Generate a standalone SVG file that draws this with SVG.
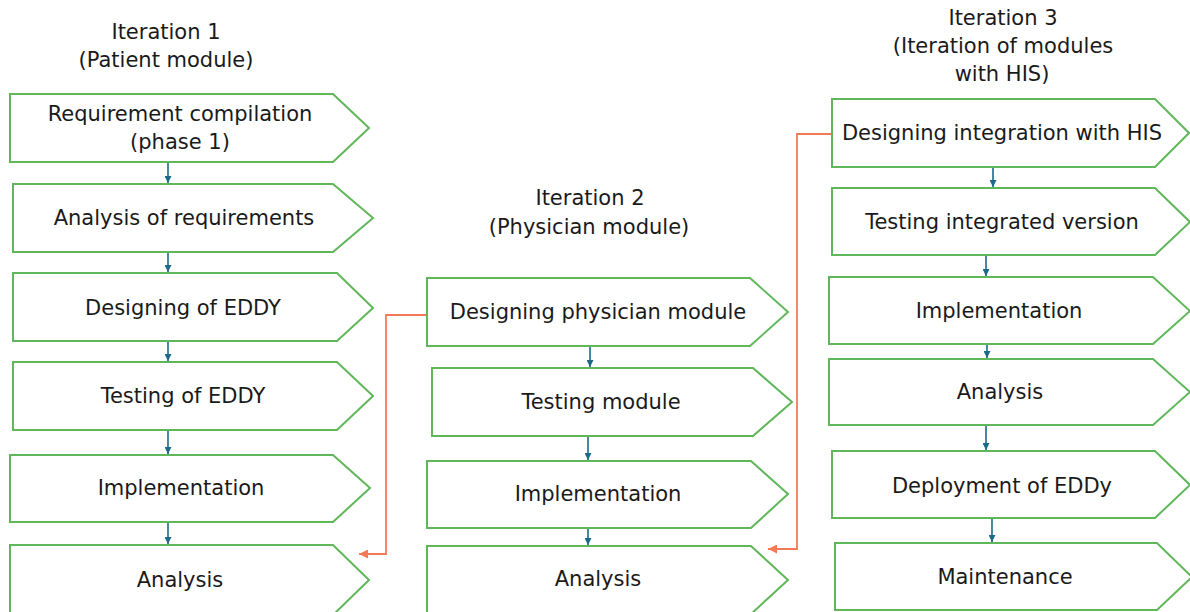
<svg xmlns="http://www.w3.org/2000/svg" width="1190" height="612" viewBox="0 0 1190 612">
  <defs>
    <style>
      .step { fill: #ffffff; stroke: #5fb75a; stroke-width: 2; stroke-linejoin: miter; }
      .lbl { font-family: "DejaVu Sans", "Open Sans", sans-serif; font-size: 21px; fill: #1a1a1a; text-anchor: middle; }
      .flow { stroke: #1b6a8a; stroke-width: 1.6; fill: none; }
      .jump { stroke: #f47a55; stroke-width: 1.8; fill: none; }
    </style>
    <marker id="head-flow" viewBox="0 0 10 10" refX="10" refY="5" markerWidth="7" markerHeight="7" markerUnits="userSpaceOnUse" orient="auto">
      <path d="M0,0 L10,5 L0,10 Z" fill="#1b6a8a"/>
    </marker>
    <marker id="head-jump" viewBox="0 0 10 10" refX="10" refY="5" markerWidth="9" markerHeight="9" markerUnits="userSpaceOnUse" orient="auto">
      <path d="M0,0 L10,5 L0,10 Z" fill="#f47a55"/>
    </marker>
  </defs>

  <rect width="1190" height="612" fill="#ffffff"/>

  <!-- column headings -->
  <g id="heading-1">
    <text class="lbl" x="166" y="39">Iteration 1</text>
    <text class="lbl" x="166" y="67">(Patient module)</text>
  </g>
  <g id="heading-2">
    <text class="lbl" x="590" y="205">Iteration 2</text>
    <text class="lbl" x="589" y="234">(Physician module)</text>
  </g>
  <g id="heading-3">
    <text class="lbl" x="1003" y="25">Iteration 3</text>
    <text class="lbl" x="1003" y="53">(Iteration of modules</text>
    <text class="lbl" x="1002" y="81">with HIS)</text>
  </g>

  <!-- connectors -->
  <g id="connectors">
    <!-- iteration 1 -->
    <line class="flow" x1="168" y1="163" x2="168" y2="183" marker-end="url(#head-flow)"/>
    <line class="flow" x1="168" y1="253" x2="168" y2="272" marker-end="url(#head-flow)"/>
    <line class="flow" x1="168" y1="342" x2="168" y2="361" marker-end="url(#head-flow)"/>
    <line class="flow" x1="168" y1="431" x2="168" y2="454" marker-end="url(#head-flow)"/>
    <line class="flow" x1="168" y1="523" x2="168" y2="544" marker-end="url(#head-flow)"/>
    <!-- iteration 2 -->
    <line class="flow" x1="590" y1="347" x2="590" y2="367" marker-end="url(#head-flow)"/>
    <line class="flow" x1="588" y1="437" x2="588" y2="460" marker-end="url(#head-flow)"/>
    <line class="flow" x1="588" y1="529" x2="588" y2="545" marker-end="url(#head-flow)"/>
    <!-- iteration 3 -->
    <line class="flow" x1="993" y1="168" x2="993" y2="187" marker-end="url(#head-flow)"/>
    <line class="flow" x1="986" y1="256" x2="986" y2="276" marker-end="url(#head-flow)"/>
    <line class="flow" x1="987" y1="345" x2="987" y2="358" marker-end="url(#head-flow)"/>
    <line class="flow" x1="986" y1="426" x2="986" y2="450" marker-end="url(#head-flow)"/>
    <line class="flow" x1="992" y1="519" x2="992" y2="542" marker-end="url(#head-flow)"/>
    <!-- links between iterations -->
    <path class="jump" d="M427,315 H386 V554 H359" marker-end="url(#head-jump)"/>
    <path class="jump" d="M831,134 H797 V549 H768" marker-end="url(#head-jump)"/>
  </g>

  <!-- iteration 1 steps -->
  <g id="req-compilation">
    <polygon class="step" points="10,94 333,94 369,128 333,162 10,162"/>
    <text class="lbl" x="180" y="121">Requirement compilation</text>
    <text class="lbl" x="180" y="149">(phase 1)</text>
  </g>
  <g id="req-analysis">
    <polygon class="step" points="13,184 333,184 373,218 333,252 13,252"/>
    <text class="lbl" x="184" y="225">Analysis of requirements</text>
  </g>
  <g id="design-eddy">
    <polygon class="step" points="13,273 337,273 373,308 337,341 13,341"/>
    <text class="lbl" x="183" y="315">Designing of EDDY</text>
  </g>
  <g id="test-eddy">
    <polygon class="step" points="13,362 337,362 373,396 337,430 13,430"/>
    <text class="lbl" x="183" y="403">Testing of EDDY</text>
  </g>
  <g id="impl-1">
    <polygon class="step" points="10,455 333,455 370,488 333,522 10,522"/>
    <text class="lbl" x="181" y="495">Implementation</text>
  </g>
  <g id="analysis-1">
    <polygon class="step" points="10,545 333,545 369,580 333,615 10,615"/>
    <text class="lbl" x="180" y="587">Analysis</text>
  </g>

  <!-- iteration 2 steps -->
  <g id="design-physician">
    <polygon class="step" points="427,278 750,278 788,312 750,346 427,346"/>
    <text class="lbl" x="598" y="319">Designing physician module</text>
  </g>
  <g id="test-module">
    <polygon class="step" points="432,368 753,368 792,402 753,436 432,436"/>
    <text class="lbl" x="601" y="409">Testing module</text>
  </g>
  <g id="impl-2">
    <polygon class="step" points="427,461 751,461 788,494 751,528 427,528"/>
    <text class="lbl" x="598" y="501">Implementation</text>
  </g>
  <g id="analysis-2">
    <polygon class="step" points="427,546 751,546 788,580 751,614 427,614"/>
    <text class="lbl" x="598" y="586">Analysis</text>
  </g>

  <!-- iteration 3 steps -->
  <g id="design-his">
    <polygon class="step" points="832,99 1155,99 1189,133 1155,167 832,167"/>
    <text class="lbl" x="1002" y="140">Designing integration with HIS</text>
  </g>
  <g id="test-integrated">
    <polygon class="step" points="832,188 1155,188 1190,222 1155,255 832,255"/>
    <text class="lbl" x="1002" y="229">Testing integrated version</text>
  </g>
  <g id="impl-3">
    <polygon class="step" points="829,277 1153,277 1190,311 1153,344 829,344"/>
    <text class="lbl" x="999" y="318">Implementation</text>
  </g>
  <g id="analysis-3">
    <polygon class="step" points="829,359 1153,359 1190,392 1153,425 829,425"/>
    <text class="lbl" x="1000" y="399">Analysis</text>
  </g>
  <g id="deployment">
    <polygon class="step" points="832,451 1155,451 1190,485 1155,518 832,518"/>
    <text class="lbl" x="1002" y="493">Deployment of EDDy</text>
  </g>
  <g id="maintenance">
    <polygon class="step" points="835,543 1157,543 1192,577 1157,610 835,610"/>
    <text class="lbl" x="1005" y="584">Maintenance</text>
  </g>
</svg>
